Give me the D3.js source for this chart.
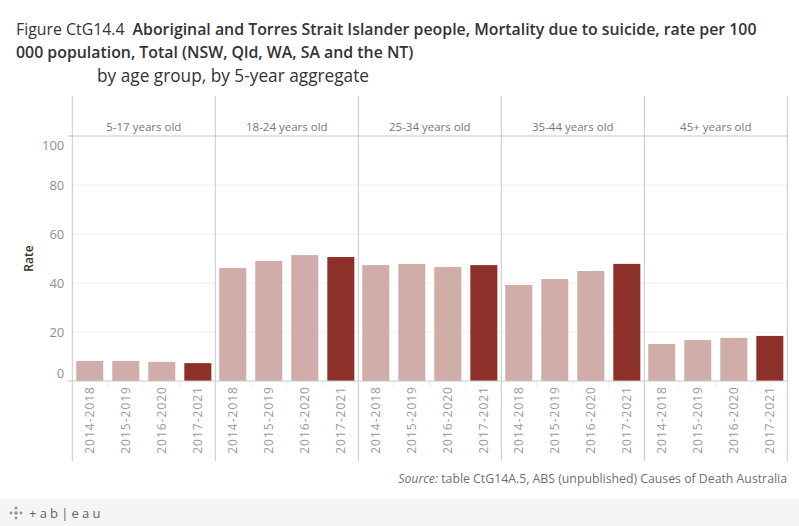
<!DOCTYPE html>
<html>
<head>
<meta charset="utf-8">
<script src="https://cdn.jsdelivr.net/npm/d3@7"></script>
<style>
  body { margin: 0; background: #fff; }
  svg { display: block; font-family: "Open Sans", sans-serif; }
</style>
</head>
<body>
<svg id="chart" width="799" height="526"></svg>
<script>
// age groups (panels) and 5-year periods (bars)
const ageGroups = ["5-17 years old", "18-24 years old", "25-34 years old", "35-44 years old", "45+ years old"];
const periods = ["2014-2018", "2015-2019", "2016-2020", "2017-2021"];

// rate per 100 000 population, one array per age group
const rate5to17 = [8.2, 8.2, 7.8, 7.3];
const rate18to24 = [46.1, 49.0, 51.4, 50.6];
const rate25to34 = [47.3, 47.8, 46.5, 47.3];
const rate35to44 = [39.2, 41.6, 44.9, 47.8];
const rate45plus = [15.1, 16.7, 17.6, 18.4];

const yTicks = [0, 20, 40, 60, 80, 100];

const rates = [rate5to17, rate18to24, rate25to34, rate35to44, rate45plus];
const data = [];
ageGroups.forEach((g, i) => {
  periods.forEach((p, j) => data.push({ age: g, period: p, rate: rates[i][j] }));
});

const svg = d3.select('#chart');

// layout
const plotLeft = 72.3, plotRight = 787.3;
const plotTop = 136, plotBottom = 381;
const headTop = 96, lineBottom = 461;

const light = '#d1ada9';
const dark = '#8c3029';

// fit a text element to a given width by changing font size
function fit(sel, w) {
  const n = sel.node();
  const len = n.getComputedTextLength();
  const fs = parseFloat(sel.attr('font-size'));
  sel.attr('font-size', (fs * w / len).toFixed(2));
  return fs * w / len;
}

// title
const t1 = svg.append('text')
  .attr('x', 16).attr('y', 35)
  .attr('font-size', 16).attr('fill', '#333');
t1.append('tspan').attr('font-weight', 400).text('Figure CtG14.4');
t1.append('tspan').attr('font-weight', 600).attr('dx', 8)
  .text('Aboriginal and Torres Strait Islander people, Mortality due to suicide, rate per 100');
const titleSize = fit(t1, 733);

svg.append('text')
  .attr('x', 16).attr('y', 58)
  .attr('font-size', titleSize).attr('font-weight', 600).attr('fill', '#333')
  .text('000 population, Total (NSW, Qld, WA, SA and the NT)');

const sub = svg.append('text')
  .attr('x', 97).attr('y', 82)
  .attr('font-size', 15).attr('fill', '#333')
  .text('by age group, by 5-year aggregate');
fit(sub, 272);

// scales
const xGroup = d3.scaleBand()
  .domain(ageGroups)
  .range([plotLeft, plotRight])
  .padding(0);

const xInner = d3.scaleBand()
  .domain(periods)
  .range([0, xGroup.bandwidth()])
  .paddingInner(0.25)
  .paddingOuter(0.11);

const yScale = d3.scaleLinear()
  .domain([0, 100])
  .range([plotBottom, plotTop]);

// gridlines
svg.append('g')
  .selectAll('line')
  .data(yTicks.filter(d => d > 0 && d < 100))
  .join('line')
  .attr('x1', plotLeft).attr('x2', plotRight)
  .attr('y1', d => yScale(d)).attr('y2', d => yScale(d))
  .attr('stroke', '#efefef').attr('stroke-width', 1);

// y axis labels (end labels nudged inside like Tableau)
const yAxis = svg.append('g')
  .attr('transform', `translate(${plotLeft}, 0)`)
  .call(d3.axisLeft(yScale).tickValues(yTicks).tickSize(0).tickPadding(8));
yAxis.select('.domain').remove();
yAxis.selectAll('text')
  .attr('font-family', '"Open Sans", sans-serif')
  .attr('font-size', 13)
  .attr('fill', '#8f8f8f')
  .attr('dy', d => d === 0 ? '-0.3em' : d === 100 ? '1em' : '0.32em');

svg.append('text')
  .attr('transform', `translate(33, ${(plotTop + plotBottom) / 2}) rotate(-90)`)
  .attr('text-anchor', 'middle')
  .attr('font-size', 12).attr('font-weight', 600).attr('fill', '#333')
  .text('Rate');

// bars
const panels = svg.append('g')
  .selectAll('g')
  .data(ageGroups)
  .join('g')
  .attr('transform', d => `translate(${xGroup(d)}, 0)`);

panels.selectAll('rect')
  .data(g => data.filter(d => d.age === g))
  .join('rect')
  .attr('x', d => xInner(d.period))
  .attr('y', d => yScale(d.rate))
  .attr('width', xInner.bandwidth())
  .attr('height', d => plotBottom - yScale(d.rate))
  .attr('fill', d => d.period === periods[periods.length - 1] ? dark : light);

// small separators under the axis
panels.selectAll('line.sep')
  .data(periods.slice(1))
  .join('line')
  .attr('class', 'sep')
  .attr('x1', d => xInner(d) - xInner.step() * xInner.paddingInner() / 2)
  .attr('x2', d => xInner(d) - xInner.step() * xInner.paddingInner() / 2)
  .attr('y1', plotBottom).attr('y2', plotBottom + 6)
  .attr('stroke', '#ececec');

// period labels
panels.selectAll('text.period')
  .data(periods)
  .join('text')
  .attr('class', 'period')
  .attr('transform', d => `translate(${xInner(d) + xInner.bandwidth() / 2}, 386) rotate(-90)`)
  .attr('dy', '0.35em')
  .attr('text-anchor', 'end')
  .attr('font-size', 12)
  .attr('letter-spacing', 1)
  .attr('fill', '#999')
  .text(d => d);

// header labels
panels.append('text')
  .attr('x', xGroup.bandwidth() / 2)
  .attr('y', 131)
  .attr('text-anchor', 'middle')
  .attr('font-size', 11.5)
  .attr('fill', '#777')
  .text(d => d);

// panel dividers
svg.append('g')
  .selectAll('line')
  .data(ageGroups.map(g => xGroup(g)).concat([plotRight]))
  .join('line')
  .attr('x1', d => d).attr('x2', d => d)
  .attr('y1', headTop).attr('y2', lineBottom)
  .attr('stroke', '#c8c8c8').attr('stroke-width', 1);

// header bottom and zero line
svg.append('g')
  .selectAll('line')
  .data([100, 0])
  .join('line')
  .attr('x1', 67).attr('x2', plotRight)
  .attr('y1', d => yScale(d)).attr('y2', d => yScale(d))
  .attr('stroke', '#c8c8c8').attr('stroke-width', 1);

// source
const src = svg.append('text')
  .attr('x', 787).attr('y', 483)
  .attr('text-anchor', 'end')
  .attr('font-size', 13).attr('fill', '#6f6f6f');
src.append('tspan').attr('font-style', 'italic').text('Source:');
src.append('tspan').text(' table CtG14A.5, ABS (unpublished) Causes of Death Australia');
fit(src, 389);

// footer bar
svg.append('rect')
  .attr('x', 0).attr('y', 499).attr('width', 799).attr('height', 27)
  .attr('fill', '#f5f5f5');

const logo = svg.append('g').attr('transform', 'translate(16, 513)').attr('stroke', '#777').attr('stroke-width', 1);
[[0, -5, 3], [0, 5, 3], [-5, 0, 3], [5, 0, 3], [0, 0, 4]].forEach(([dx, dy, s]) => {
  logo.append('line').attr('x1', dx - s / 2).attr('x2', dx + s / 2).attr('y1', dy).attr('y2', dy);
  logo.append('line').attr('x1', dx).attr('x2', dx).attr('y1', dy - s / 2).attr('y2', dy + s / 2);
});

svg.append('text')
  .attr('x', 29).attr('y', 518)
  .attr('font-size', 13).attr('fill', '#666')
  .attr('letter-spacing', 3.2)
  .text('+ab|eau');
</script>
</body>
</html>
